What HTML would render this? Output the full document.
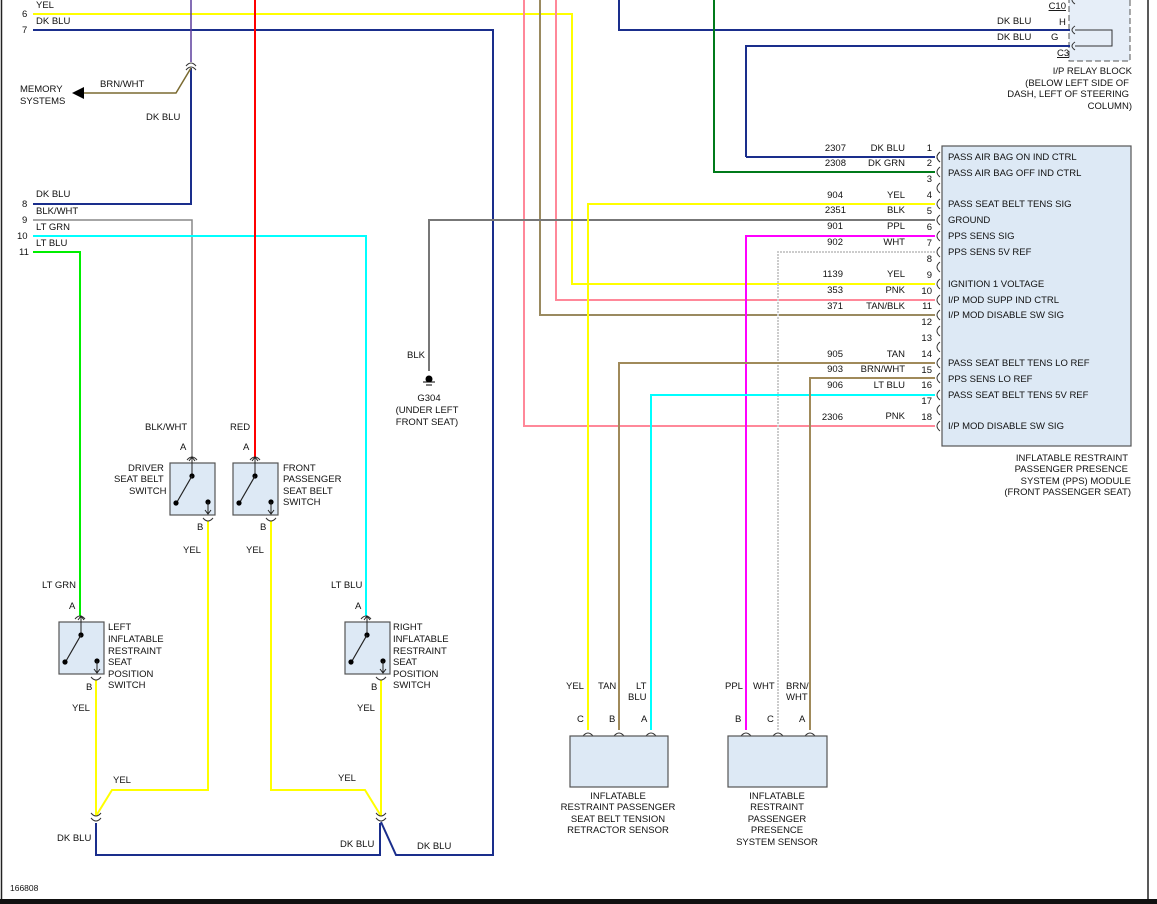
<!DOCTYPE html>
<html><head><meta charset="utf-8"><style>
html,body{margin:0;padding:0;background:#fff;}
svg{display:block;font-family:"Liberation Sans",sans-serif;font-size:9.5px;}
text{fill:#111;}
</style></head><body>
<svg width="1157" height="904" viewBox="0 0 1157 904" xmlns="http://www.w3.org/2000/svg">
<defs>
<g id="sw">
<rect x="0" y="0" width="45" height="52" fill="#dde9f5" stroke="#555" stroke-width="1.2"/>
<line x1="22" y1="-6" x2="22" y2="13" stroke="#222" stroke-width="1"/>
<path d="M19,-2 L22,-6 L25,-2" fill="none" stroke="#222"/>
<circle cx="22" cy="13" r="2.6" fill="#000"/>
<line x1="22" y1="13" x2="7" y2="39" stroke="#222" stroke-width="1.2"/>
<circle cx="6" cy="40" r="2.6" fill="#000"/>
<circle cx="38" cy="39" r="2.6" fill="#000"/>
<line x1="38" y1="39" x2="38" y2="51" stroke="#222"/>
<path d="M35,47 L38,51 L41,47" fill="none" stroke="#222"/>
</g>
</defs>
<rect x="0" y="0" width="1157" height="904" fill="#fff"/>
<line x1="1.5" y1="0" x2="1.5" y2="900" stroke="#222" stroke-width="1.5"/>
<line x1="1148" y1="0" x2="1148" y2="900" stroke="#222" stroke-width="1.5"/>
<rect x="0" y="899" width="1157" height="5" fill="#111"/>

<!-- relay block -->
<rect x="1069" y="-2" width="61" height="63" fill="#e6eef8" stroke="#555" stroke-dasharray="6,3"/>
<path d="M1075,30 L1112,30 L1112,46 L1075,46" fill="none" stroke="#333"/>
<text x="1066" y="9" font-size="9.5" text-anchor="end" text-decoration="underline">C10</text>
<text x="1059" y="25">H</text><text x="1051" y="40">G</text>
<text x="1057" y="56" text-decoration="underline">C3</text>
<text x="1132" y="74" text-anchor="end">I/P RELAY BLOCK</text>
<text x="1129" y="86" text-anchor="end">(BELOW LEFT SIDE OF</text>
<text x="1129" y="97" text-anchor="end">DASH, LEFT OF STEERING</text>
<text x="1132" y="109" text-anchor="end">COLUMN)</text>

<!-- module -->
<rect x="942" y="146" width="189" height="300" fill="#dde9f5" stroke="#555" stroke-width="1.2"/>

<g fill="none" stroke-width="2">
<!-- left wires -->
<path d="M33,14 H572 V284 H935" stroke="#ffff00"/>
<path d="M33,30 H493 V855 H396 L381,822" stroke="#1a2e8c"/>
<path d="M619,0 V30 H1070" stroke="#1a2e8c"/>
<path d="M746,157 V46 H1070" stroke="#1a2e8c"/>
<path d="M746,157 H935" stroke="#1a2e8c"/>
<path d="M714,0 V172 H935" stroke="#007a1a"/>
<path d="M191,0 V62" stroke="#5a3c9c" stroke-width="1.5"/>
<path d="M191,68 V204 H33" stroke="#1a2e8c"/>
<path d="M191,68 L176,93 H84" stroke="#7a6a30" stroke-width="1.5"/>
<path d="M33,220 H192 V457" stroke="#888" stroke-width="1.5"/>
<path d="M33,236 H366 V616" stroke="#00ffff"/>
<path d="M33,252 H80 V616" stroke="#00ee00"/>
<path d="M255,0 V457" stroke="#ff0000"/>
<path d="M524,0 V426 H935" stroke="#ff8899"/>
<path d="M540,0 V315 H935" stroke="#9a8a60"/>
<path d="M556,0 V300 H935" stroke="#ff8899"/>
<path d="M429,371 V220 H935" stroke="#777"/>
<path d="M588,730 V204 H935" stroke="#ffff00"/>
<path d="M746,730 V236 H935" stroke="#ff00ff"/>
<path d="M778,730 V252 H935" stroke="#ccc" stroke-dasharray="2,1"/>
<path d="M619,730 V363 H935" stroke="#a08a5a"/>
<path d="M651,730 V395 H935" stroke="#00ffff"/>
<path d="M810,730 V378 H935" stroke="#a08a5a"/>
<!-- switches yellow -->
<path d="M208,521 V790 H112 L96,816" stroke="#ffff00"/>
<path d="M96,680 V816" stroke="#ffff00"/>
<path d="M271,521 V790 H365 L381,816" stroke="#ffff00"/>
<path d="M381,680 V816" stroke="#ffff00"/>
<path d="M96,823 V855 H380 V823" stroke="#1a2e8c"/>
</g>
<polygon points="72,93 84,87 84,99" fill="#000"/>
<!-- connector arcs -->
<g fill="none" stroke="#333" stroke-width="1">
<path d="M186,66 Q191,60 196,66 M186,70 Q191,64 196,70"/>
<path d="M91,813 Q96,819 101,813 M91,818 Q96,824 101,818"/>
<path d="M376,813 Q381,819 386,813 M376,818 Q381,824 386,818"/>
<path d="M187,460 Q192,454 197,460 M250,460 Q255,454 260,460 M75,619 Q80,613 85,619 M361,619 Q366,613 371,619"/>
<path d="M203,518 Q208,524 213,518 M266,518 Q271,524 276,518 M91,677 Q96,683 101,677 M376,677 Q381,683 386,677"/>
<path d="M583,736 Q588,730 593,736 M614,736 Q619,730 624,736 M646,736 Q651,730 656,736 M741,736 Q746,730 751,736 M773,736 Q778,730 783,736 M805,736 Q810,730 815,736"/>
<path d="M1075,26 Q1069,30 1075,34 M1075,42 Q1069,46 1075,50 M1075,-4 Q1069,0 1075,4"/>
</g>
<g fill="none" stroke="#333" stroke-width="1">
<path id="pa" d="M940,152 Q934,157 940,162"/>
</g>
<g fill="none" stroke="#333" stroke-width="1">
<path d="M940,152 Q934,157 940,162 M940,167 Q934,172 940,177 M940,183 Q934,188 940,193 M940,199 Q934,204 940,209 M940,215 Q934,220 940,225 M940,231 Q934,236 940,241 M940,247 Q934,252 940,257 M940,262 Q934,267 940,272 M940,279 Q934,284 940,289 M940,295 Q934,300 940,305 M940,310 Q934,315 940,320 M940,326 Q934,331 940,336 M940,342 Q934,347 940,352 M940,358 Q934,363 940,368 M940,373 Q934,378 940,383 M940,390 Q934,395 940,400 M940,405 Q934,410 940,415 M940,421 Q934,426 940,431"/>
</g>

<!-- switches -->
<use href="#sw" x="170" y="463"/>
<use href="#sw" x="233" y="463"/>
<use href="#sw" x="59" y="622"/>
<use href="#sw" x="345" y="622"/>

<!-- sensors -->
<rect x="570" y="736" width="98" height="51" fill="#dde9f5" stroke="#555" stroke-width="1.2"/>
<rect x="728" y="736" width="99" height="51" fill="#dde9f5" stroke="#555" stroke-width="1.2"/>

<!-- ground -->
<circle cx="429" cy="379" r="3.5" fill="#000"/>
<line x1="423" y1="382" x2="435" y2="382" stroke="#000"/>
<line x1="426" y1="385" x2="432" y2="385" stroke="#000"/>

<!-- left labels -->
<text x="36" y="8">YEL</text><text x="22" y="17">6</text>
<text x="36" y="24">DK BLU</text><text x="22" y="33">7</text>
<text x="36" y="197">DK BLU</text><text x="22" y="207">8</text>
<text x="36" y="214">BLK/WHT</text><text x="22" y="223">9</text>
<text x="36" y="230">LT GRN</text><text x="17" y="239">10</text>
<text x="36" y="246">LT BLU</text><text x="19" y="255">11</text>
<text x="20" y="92">MEMORY</text><text x="20" y="104">SYSTEMS</text>
<text x="100" y="87">BRN/WHT</text>
<text x="146" y="120">DK BLU</text>
<text x="407" y="358">BLK</text>
<text x="429" y="401" text-anchor="middle">G304</text>
<text x="427" y="413" text-anchor="middle">(UNDER LEFT</text>
<text x="427" y="425" text-anchor="middle">FRONT SEAT)</text>
<text x="145" y="430">BLK/WHT</text><text x="230" y="430">RED</text>
<text x="180" y="450">A</text><text x="243" y="450">A</text>
<text x="128" y="471">DRIVER</text><text x="114" y="482">SEAT BELT</text><text x="129" y="494">SWITCH</text>
<text x="283" y="471">FRONT</text><text x="283" y="482">PASSENGER</text><text x="283" y="494">SEAT BELT</text><text x="283" y="505">SWITCH</text>
<text x="197" y="530">B</text><text x="260" y="530">B</text>
<text x="183" y="553">YEL</text><text x="246" y="553">YEL</text>
<text x="42" y="588">LT GRN</text><text x="331" y="588">LT BLU</text>
<text x="69" y="609">A</text><text x="355" y="609">A</text>
<text x="108" y="630">LEFT</text><text x="108" y="642">INFLATABLE</text><text x="108" y="654">RESTRAINT</text><text x="108" y="665">SEAT</text><text x="108" y="677">POSITION</text><text x="108" y="688">SWITCH</text>
<text x="393" y="630">RIGHT</text><text x="393" y="642">INFLATABLE</text><text x="393" y="654">RESTRAINT</text><text x="393" y="665">SEAT</text><text x="393" y="677">POSITION</text><text x="393" y="688">SWITCH</text>
<text x="86" y="690">B</text><text x="371" y="690">B</text>
<text x="72" y="711">YEL</text><text x="357" y="711">YEL</text>
<text x="113" y="783">YEL</text><text x="338" y="781">YEL</text>
<text x="57" y="841">DK BLU</text><text x="340" y="847">DK BLU</text><text x="417" y="849">DK BLU</text>
<text x="10" y="891" font-size="8.5">166808</text>

<!-- top right labels -->
<text x="997" y="24">DK BLU</text><text x="997" y="40">DK BLU</text>

<!-- module pin labels -->
<g font-size="9.5">
<text x="846" y="151" text-anchor="end">2307</text><text x="905" y="151" text-anchor="end">DK BLU</text><text x="932" y="151" text-anchor="end">1</text>
<text x="846" y="166" text-anchor="end">2308</text><text x="905" y="166" text-anchor="end">DK GRN</text><text x="932" y="166" text-anchor="end">2</text>
<text x="932" y="182" text-anchor="end">3</text>
<text x="843" y="198" text-anchor="end">904</text><text x="905" y="198" text-anchor="end">YEL</text><text x="932" y="198" text-anchor="end">4</text>
<text x="846" y="213" text-anchor="end">2351</text><text x="905" y="213" text-anchor="end">BLK</text><text x="932" y="214" text-anchor="end">5</text>
<text x="843" y="229" text-anchor="end">901</text><text x="905" y="229" text-anchor="end">PPL</text><text x="932" y="230" text-anchor="end">6</text>
<text x="843" y="245" text-anchor="end">902</text><text x="905" y="245" text-anchor="end">WHT</text><text x="932" y="246" text-anchor="end">7</text>
<text x="932" y="262" text-anchor="end">8</text>
<text x="843" y="277" text-anchor="end">1139</text><text x="905" y="277" text-anchor="end">YEL</text><text x="932" y="278" text-anchor="end">9</text>
<text x="843" y="293" text-anchor="end">353</text><text x="905" y="293" text-anchor="end">PNK</text><text x="932" y="294" text-anchor="end">10</text>
<text x="843" y="309" text-anchor="end">371</text><text x="905" y="309" text-anchor="end">TAN/BLK</text><text x="932" y="309" text-anchor="end">11</text>
<text x="932" y="325" text-anchor="end">12</text>
<text x="932" y="341" text-anchor="end">13</text>
<text x="843" y="357" text-anchor="end">905</text><text x="905" y="357" text-anchor="end">TAN</text><text x="932" y="357" text-anchor="end">14</text>
<text x="843" y="372" text-anchor="end">903</text><text x="905" y="372" text-anchor="end">BRN/WHT</text><text x="932" y="373" text-anchor="end">15</text>
<text x="843" y="388" text-anchor="end">906</text><text x="905" y="388" text-anchor="end">LT BLU</text><text x="932" y="388" text-anchor="end">16</text>
<text x="932" y="404" text-anchor="end">17</text>
<text x="843" y="420" text-anchor="end">2306</text><text x="905" y="419" text-anchor="end">PNK</text><text x="932" y="420" text-anchor="end">18</text>
</g>
<g>
<text x="948" y="160">PASS AIR BAG ON IND CTRL</text>
<text x="948" y="176">PASS AIR BAG OFF IND CTRL</text>
<text x="948" y="207">PASS SEAT BELT TENS SIG</text>
<text x="948" y="223">GROUND</text>
<text x="948" y="239">PPS SENS SIG</text>
<text x="948" y="255">PPS SENS 5V REF</text>
<text x="948" y="287">IGNITION 1 VOLTAGE</text>
<text x="948" y="303">I/P MOD SUPP IND CTRL</text>
<text x="948" y="318">I/P MOD DISABLE SW SIG</text>
<text x="948" y="366">PASS SEAT BELT TENS LO REF</text>
<text x="948" y="382">PPS SENS LO REF</text>
<text x="948" y="398">PASS SEAT BELT TENS 5V REF</text>
<text x="948" y="429">I/P MOD DISABLE SW SIG</text>
</g>
<text x="1128" y="461" text-anchor="end">INFLATABLE RESTRAINT</text>
<text x="1128" y="472" text-anchor="end">PASSENGER PRESENCE</text>
<text x="1131" y="484" text-anchor="end">SYSTEM (PPS) MODULE</text>
<text x="1131" y="495" text-anchor="end">(FRONT PASSENGER SEAT)</text>

<!-- sensor labels -->
<text x="566" y="689">YEL</text><text x="598" y="689">TAN</text><text x="636" y="689">LT</text><text x="628" y="700">BLU</text>
<text x="577" y="722">C</text><text x="609" y="722">B</text><text x="641" y="722">A</text>
<text x="725" y="689">PPL</text><text x="753" y="689">WHT</text><text x="786" y="689">BRN/</text><text x="786" y="700">WHT</text>
<text x="735" y="722">B</text><text x="767" y="722">C</text><text x="799" y="722">A</text>
<text x="618" y="799" text-anchor="middle">INFLATABLE</text>
<text x="618" y="810" text-anchor="middle">RESTRAINT PASSENGER</text>
<text x="618" y="822" text-anchor="middle">SEAT BELT TENSION</text>
<text x="618" y="833" text-anchor="middle">RETRACTOR SENSOR</text>
<text x="777" y="799" text-anchor="middle">INFLATABLE</text>
<text x="777" y="810" text-anchor="middle">RESTRAINT</text>
<text x="777" y="822" text-anchor="middle">PASSENGER</text>
<text x="777" y="833" text-anchor="middle">PRESENCE</text>
<text x="777" y="845" text-anchor="middle">SYSTEM SENSOR</text>
</svg>
</body></html>
